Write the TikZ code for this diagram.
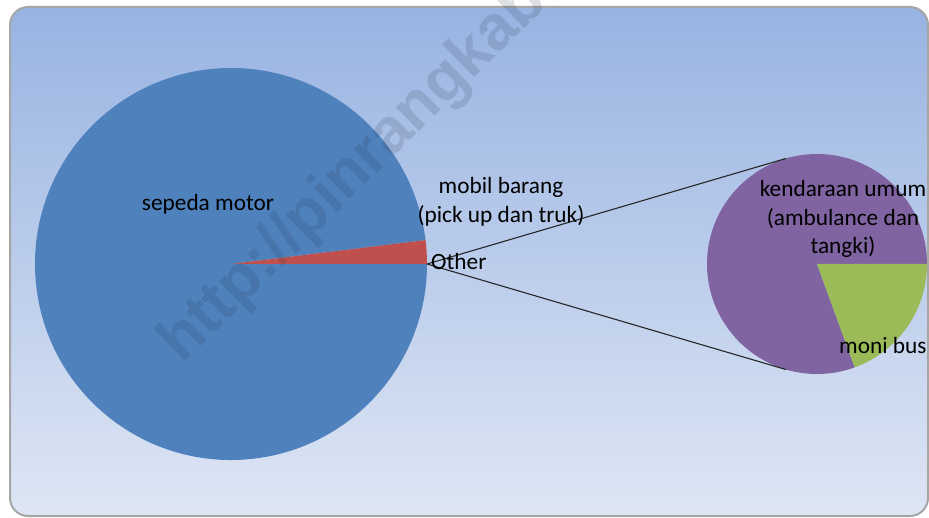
\documentclass[tikz,border=0pt]{standalone}
\usepackage{fontspec}
\setmainfont{Carlito}
\newfontfamily\wmfont{Liberation Sans}
\usetikzlibrary{calc}
\definecolor{pblue}{HTML}{4F81BD}
\definecolor{pred}{HTML}{C0504D}
\definecolor{ppurple}{HTML}{8064A2}
\definecolor{pgreen}{HTML}{9BBB59}
\definecolor{bgtop}{HTML}{98B3E2}
\definecolor{bgbot}{HTML}{DEE6F4}
\definecolor{wmgray}{HTML}{203040}
\tikzset{
  lbl/.style={font=\fontsize{23.3}{28.5}\selectfont, text=black, align=center, inner sep=0pt},
  conn/.style={draw=black!85, line width=1.1pt},
}
\begin{document}
\begin{tikzpicture}[x=1pt,y=1pt]
\useasboundingbox (0,0) rectangle (929,517);
\clip (0,0) rectangle (929,517);
% background panel
\fill[white] (0,0) rectangle (929,517);
\shade[top color=bgtop, bottom color=bgbot, rounded corners=18pt] (10,1) rectangle (928,510);
\draw[draw=gray!70, line width=2pt, rounded corners=18pt] (10,1) rectangle (928,510);
% big pie
\coordinate (bc) at (231,253);
\fill[pblue] (bc) -- ++(7:196) arc[start angle=7, end angle=360, radius=196] -- cycle;
\fill[pred] (bc) -- ++(0:196) arc[start angle=0, end angle=7, radius=196] -- cycle;
% small pie
\coordinate (sc) at (817,253);
\fill[ppurple] (sc) -- ++(0:110) arc[start angle=0, end angle=290, radius=110] -- cycle;
\fill[pgreen] (sc) -- ++(-70:110) arc[start angle=-70, end angle=0, radius=110] -- cycle;
% connectors
\coordinate (other) at (427,253);
\coordinate (tu) at ($(sc)+(106.4:110)$);
\coordinate (tl) at ($(sc)+(-106.4:110)$);
\draw[conn] (other) -- (tu);
\draw[conn] (other) -- (tl);
% watermark
\node[font=\wmfont\bfseries\fontsize{63}{63}\selectfont, text=wmgray, opacity=0.15, rotate=44.5, anchor=base west, inner sep=0pt] (wm) at (182,152) {http://pinrangkab.go.id};
% labels
\node[lbl] (l1) at (208,313) {sepeda motor};
\node[lbl] (l2) at (501,315) {mobil barang\\(pick up dan truk)};
\node[lbl, anchor=west] (l3) at (431,256) {Other};
\node[lbl] (l4) at (843,298) {kendaraan umum\\(ambulance dan\\tangki)};
\node[lbl, anchor=west] (l5) at (839,172) {moni bus};
\end{tikzpicture}
\end{document}
